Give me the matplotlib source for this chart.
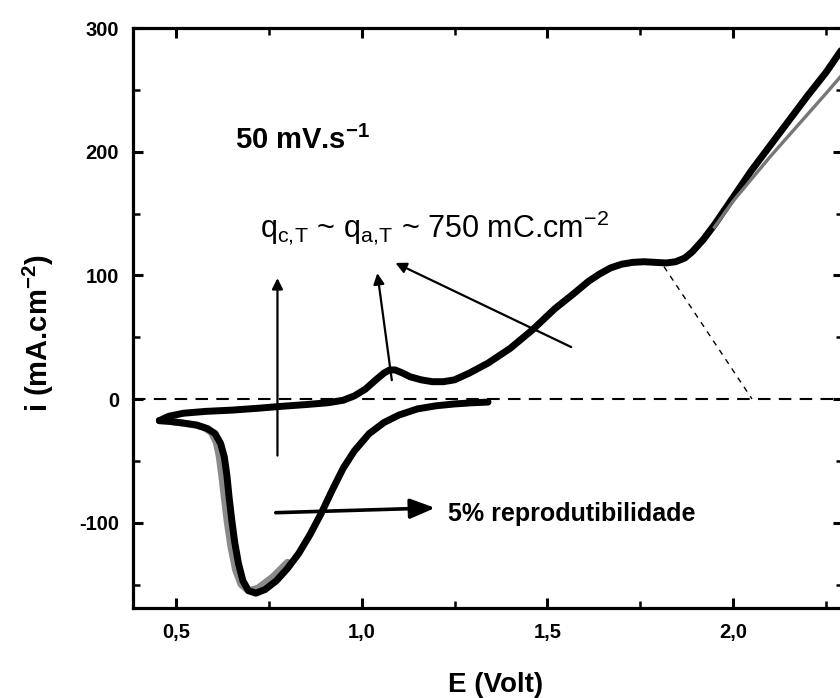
import matplotlib
matplotlib.use('Agg')
import matplotlib.pyplot as plt

plt.rcParams['font.family'] = ['Liberation Sans', 'DejaVu Sans']
plt.rcParams['mathtext.fontset'] = 'custom'
plt.rcParams['mathtext.rm'] = 'Liberation Sans'
plt.rcParams['mathtext.it'] = 'Liberation Sans:italic'
plt.rcParams['mathtext.bf'] = 'Liberation Sans:bold'
plt.rcParams['axes.unicode_minus'] = False

# cathodic branch (1.34 V -> 0.455 V), main cycle
E_cath = [1.34, 1.30, 1.25, 1.20, 1.15, 1.10, 1.06, 1.02, 0.98, 0.95, 0.92, 0.89,
          0.86, 0.83, 0.80, 0.77, 0.74, 0.715, 0.695, 0.68, 0.668, 0.658, 0.65,
          0.643, 0.637, 0.63, 0.62, 0.605, 0.585, 0.555, 0.52, 0.48, 0.455]
i_cath = [-2.5, -3, -4, -5.5, -8, -13, -19, -28, -42, -56, -74, -93,
          -110, -125, -137, -147, -154, -157, -155, -147, -133, -116, -98,
          -80, -62, -47, -36, -28, -24, -21, -19.5, -18, -17.5]

# cathodic peak, other cycle
E_cath2 = [0.80, 0.76, 0.72, 0.695, 0.675, 0.66, 0.648, 0.638, 0.63, 0.623,
           0.616, 0.608, 0.595, 0.575, 0.55, 0.52, 0.48, 0.455]
i_cath2 = [-132, -144, -153, -155, -150, -138, -120, -100, -80, -62,
           -46, -35, -27, -23, -21, -19.5, -18, -17.5]

# anodic branch (0.455 V -> 2.3 V)
E_anod = [0.455, 0.48, 0.52, 0.58, 0.65, 0.72, 0.78, 0.85, 0.91, 0.95, 0.98,
          1.01, 1.04, 1.06, 1.075, 1.09, 1.11, 1.13, 1.16, 1.19, 1.22, 1.25,
          1.29, 1.34, 1.40, 1.46, 1.52, 1.57, 1.61, 1.64, 1.67, 1.70, 1.73,
          1.76, 1.79, 1.82, 1.845, 1.87, 1.89, 1.92, 1.95, 2.00, 2.05, 2.10,
          2.15, 2.20, 2.25, 2.296]
i_anod = [-17.5, -14, -11.5, -10, -9, -7.5, -6, -4.5, -3, -1, 2.5,
          8, 16, 21, 23.5, 23.5, 21, 18, 15.5, 14, 14, 15.5,
          21, 29, 41, 56, 73, 85, 95, 101, 106, 109, 110.5,
          111, 110.5, 110, 111, 114, 119, 129, 141, 163, 185, 205,
          225, 245, 264, 284]

# anodic high-potential region, other cycle
E_anod2 = [1.95, 2.00, 2.05, 2.10, 2.15, 2.20, 2.25, 2.296]
i_anod2 = [139, 160, 178, 196, 213, 230, 247, 263]

# extrapolation line of the plateau
E_extra = [1.814, 2.051]
i_extra = [107, 0]

x_ticks = [0.5, 1.0, 1.5, 2.0]
x_ticklabels = ['0,5', '1,0', '1,5', '2,0']
y_ticks = [-100, 0, 100, 200, 300]

fig = plt.figure(figsize=(8.4, 6.98), dpi=100)
ax = fig.add_axes([133/840, 90/698, 710/840, 580/698])

ax.plot(E_cath2, i_cath2, color='#8a8a8a', lw=5, solid_capstyle='round')
ax.plot(E_cath, i_cath, color='black', lw=5, solid_capstyle='round')
ax.plot(E_anod, i_anod, color='black', lw=5, solid_capstyle='round')
ax.plot(E_anod2, i_anod2, color='#777777', lw=2.4)

ax.axhline(0, color='black', lw=1.5, ls=(0, (6, 4)))
ax.plot(E_extra, i_extra, color='black', lw=1.0, ls=(0, (4, 4)))

arrow = dict(arrowstyle='-|>', color='black', lw=1.6, mutation_scale=16)
ax.annotate('', xy=(0.773, 100), xytext=(0.773, -48), arrowprops=arrow)
ax.annotate('', xy=(1.041, 104), xytext=(1.082, 13), arrowprops=arrow)
ax.annotate('', xy=(1.084, 111), xytext=(1.571, 41), arrowprops=arrow)
ax.annotate('', xy=(1.205, -88), xytext=(0.761, -92),
            arrowprops=dict(arrowstyle='-|>,head_length=0.5,head_width=0.2',
                            color='black', lw=2.6, mutation_scale=30))

ax.text(0.659, 202, r'50 mV.s$^{\mathbf{-1}}$', fontsize=21, fontweight='bold')
ax.text(0.726, 131, r'q$_{\mathrm{c,\!T}}$ ~ q$_{\mathrm{a,\!T}}$ ~ 750 mC.cm$^{-2}$', fontsize=22)
ax.text(1.233, -98.6, '5% reprodutibilidade', fontsize=18, fontweight='bold')

ax.set_xlim(0.384, 2.296)
ax.set_ylim(-169, 300)
ax.set_xticks(x_ticks)
ax.set_xticklabels(x_ticklabels)
ax.set_xticks([0.75, 1.25, 1.75, 2.25], minor=True)
ax.set_yticks(y_ticks)
ax.set_yticks([-150, -50, 50, 150, 250], minor=True)

for lab in ax.get_xticklabels() + ax.get_yticklabels():
    lab.set_fontweight('bold')
ax.tick_params(which='both', direction='in', top=True, right=True, labelsize=14.5)
ax.tick_params(which='major', length=7, width=2.2)
ax.tick_params(which='minor', length=5, width=1.8)
ax.tick_params(axis='x', pad=11)
ax.tick_params(axis='y', pad=10)
for s in ax.spines.values():
    s.set_linewidth(2.3)

ax.set_xlabel('E (Volt)', fontsize=20, fontweight='bold')
ax.set_ylabel(r'i (mA.cm$^{\mathbf{-2}}$)', fontsize=21, fontweight='bold')
ax.xaxis.set_label_coords(0.51, -0.11)
ax.yaxis.set_label_coords(-0.108, 0.474)

fig.savefig('out.png', dpi=100)
